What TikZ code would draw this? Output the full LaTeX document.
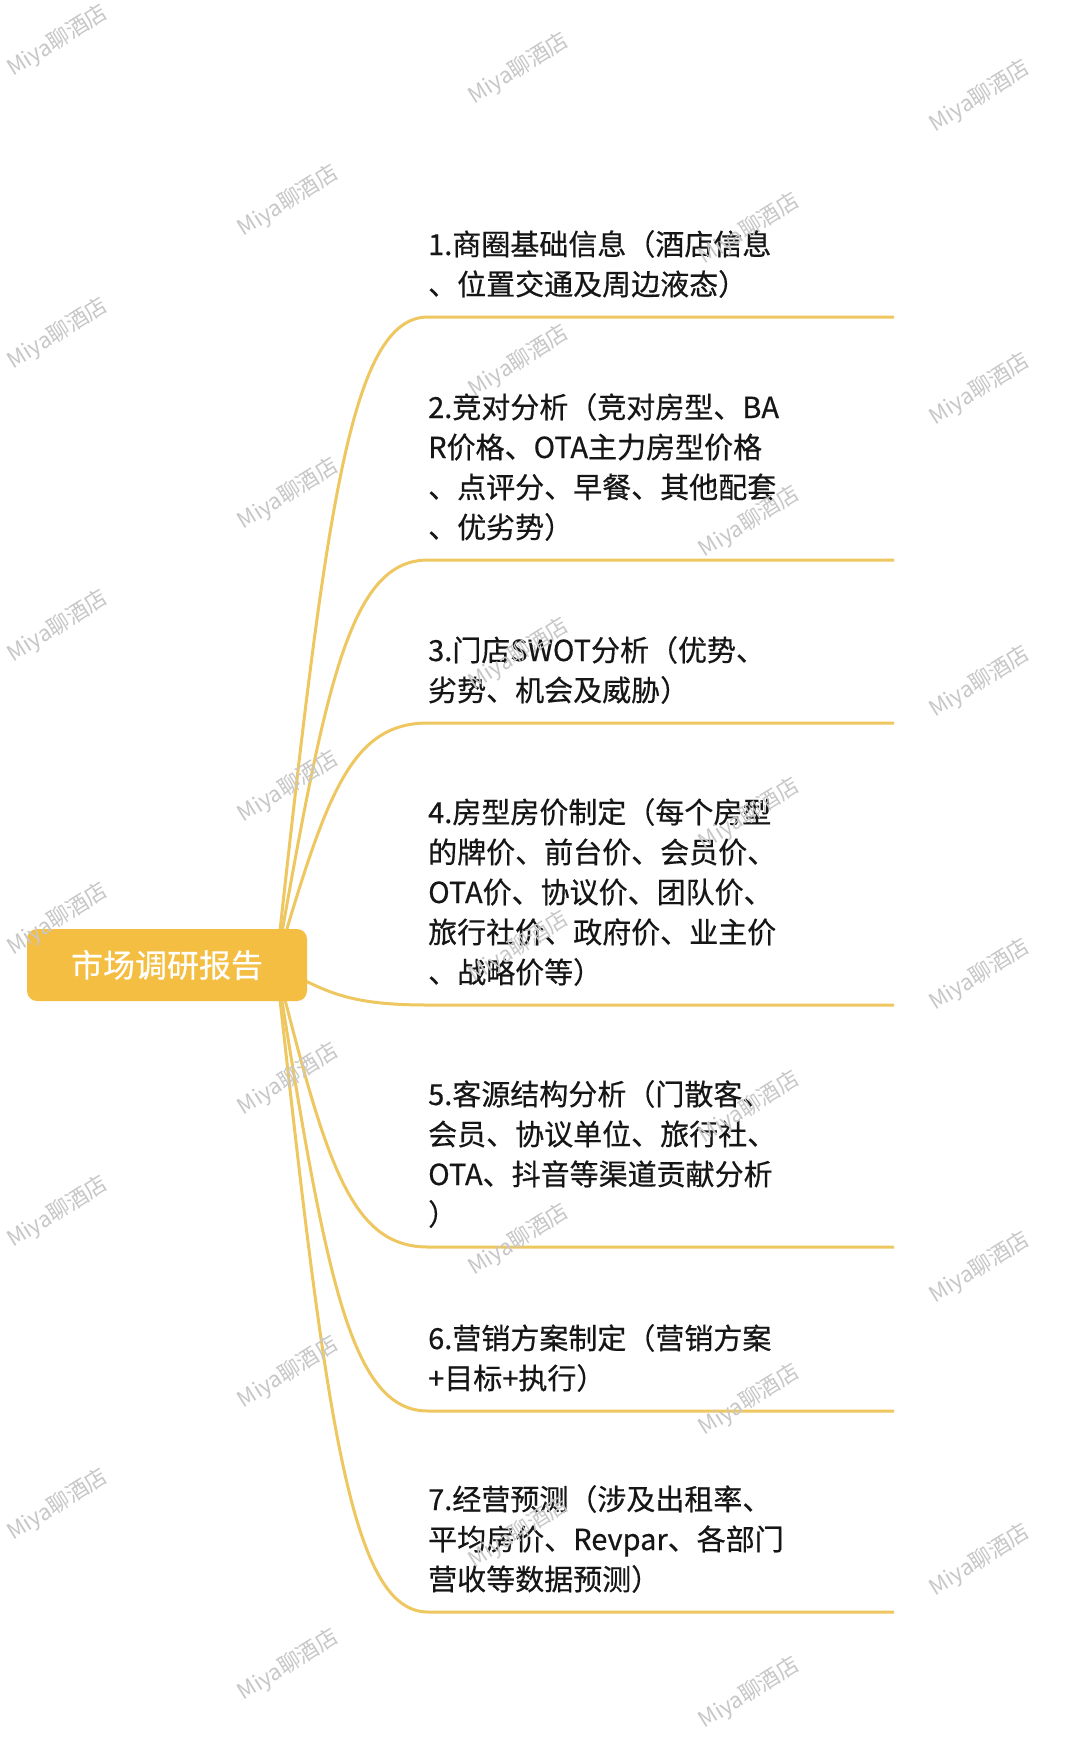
\documentclass[tikz,border=0pt]{standalone}
\usepackage{fontspec}
\setmainfont{Noto Sans CJK SC}
\newfontfamily\grosso[FakeBold=0.5]{Noto Sans CJK SC}
\usetikzlibrary{backgrounds}
\definecolor{ouro}{RGB}{244,190,66}
\definecolor{ouroclaro}{RGB}{238,199,96}
\definecolor{tinta}{RGB}{22,22,22}
\begin{document}
\begin{tikzpicture}[x=1pt, y=-1pt,
        raiz/.style={fill=ouro, rounded corners=10pt, minimum width=280pt, minimum height=72pt, inner sep=0pt, text=white, font=\grosso\fontsize{32}{32}\selectfont},
        topico/.style={anchor=base west, align=left, inner sep=0pt, text=tinta, font=\grosso\fontsize{29}{40}\selectfont},
        ramo/.style={draw=ouroclaro, line width=3pt},
        marca/.style={text=black!22, rotate=32, inner sep=0pt, font=\fontsize{22}{22}\selectfont},
    ]
    \useasboundingbox (0,0) rectangle (1080,1745);

    \node[raiz] (r) at (167,965) {市场调研报告};
    \coordinate (c) at ([xshift=-31pt]r.east);

    \coordinate (a1) at (428,317);  \coordinate (z1) at (894,317);
    \coordinate (a2) at (428,560);  \coordinate (z2) at (894,560);
    \coordinate (a3) at (428,723);  \coordinate (z3) at (894,723);
    \coordinate (a4) at (428,1005); \coordinate (z4) at (894,1005);
    \coordinate (a5) at (428,1247); \coordinate (z5) at (894,1247);
    \coordinate (a6) at (428,1411); \coordinate (z6) at (894,1411);
    \coordinate (a7) at (428,1612); \coordinate (z7) at (894,1612);

    \begin{scope}[on background layer]
        \fill[white] (0,0) rectangle (1080,1745);
        \draw[ramo] (c) .. controls (326,511) and (350,317) .. (a1) -- (z1);
        \draw[ramo] (c) .. controls (326,682) and (350,560) .. (a2) -- (z2);
        \draw[ramo] (c) .. controls (326,796) and (350,723) .. (a3) -- (z3);
        \draw[ramo] (c) .. controls (326,993) and (350,1005) .. (a4) -- (z4);
        \draw[ramo] (c) .. controls (326,1162) and (350,1247) .. (a5) -- (z5);
        \draw[ramo] (c) .. controls (326,1277) and (350,1411) .. (a6) -- (z6);
        \draw[ramo] (c) .. controls (326,1418) and (350,1612) .. (a7) -- (z7);
    \end{scope}

    % base da ultima linha
    \node[topico] (t1) at (428,295) {1.商圈基础信息（酒店信息\\、位置交通及周边液态）};
    \node[topico] (t2) at (428,538) {2.竞对分析（竞对房型、BA\\R价格、OTA主力房型价格\\、点评分、早餐、其他配套\\、优劣势）};
    \node[topico] (t3) at (428,701) {3.门店SWOT分析（优势、\\劣势、机会及威胁）};
    \node[topico] (t4) at (428,983) {4.房型房价制定（每个房型\\的牌价、前台价、会员价、\\OTA价、协议价、团队价、\\旅行社价、政府价、业主价\\、战略价等）};
    \node[topico] (t5) at (428,1225) {5.客源结构分析（门散客、\\会员、协议单位、旅行社、\\OTA、抖音等渠道贡献分析\\）};
    \node[topico] (t6) at (428,1389) {6.营销方案制定（营销方案\\+目标+执行）};
    \node[topico] (t7) at (428,1590) {7.经营预测（涉及出租率、\\平均房价、Revpar、各部门\\营收等数据预测）};

    % marcas d'agua
    \foreach \k in {0,...,4}
        \foreach \j in {0,...,5} {
            \pgfmathsetmacro\mx{58+230.5*\k}
            \pgfmathsetmacro\my{41+13.9*\k+146.4*mod(\k,2)+292.8*\j}
            \node[marca] (m\k\j) at (\mx,\my) {Miya聊酒店};
        }
\end{tikzpicture}
\end{document}
